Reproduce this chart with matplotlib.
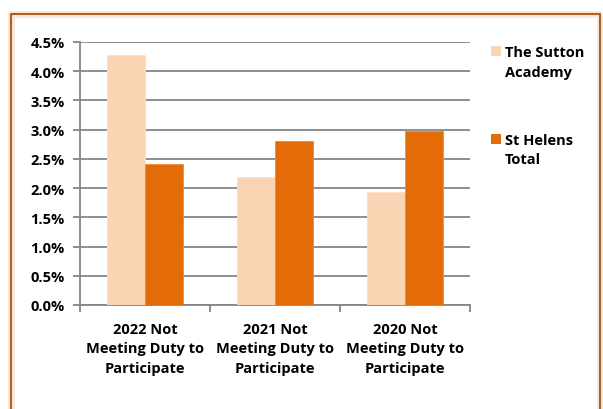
import matplotlib as mpl

mpl.use("Agg")

import matplotlib.pyplot as plt
import numpy as np
from matplotlib.lines import Line2D
from matplotlib.patches import Rectangle

CATEGORIES = [
    "2022 Not\nMeeting Duty to\nParticipate",
    "2021 Not\nMeeting Duty to\nParticipate",
    "2020 Not\nMeeting Duty to\nParticipate",
]
SERIES = ["The Sutton\nAcademy", "St Helens\nTotal"]
SUTTON = [4.28, 2.19, 1.93]
ST_HELENS = [2.41, 2.80, 2.98]
Y_TICKS = [0.0, 0.5, 1.0, 1.5, 2.0, 2.5, 3.0, 3.5, 4.0, 4.5]

LIGHT = "#FBD4B4"
DARK = "#E36C09"
GRID = "#868686"
BORDER = "#B35E1C"

plt.rcParams["font.family"] = ["Open Sans", "DejaVu Sans"]
plt.rcParams["font.weight"] = "bold"

W, H = 603, 410
fig = plt.figure(figsize=(W / 100, H / 100), dpi=100, facecolor="white")

# outer frame: left, top and right edges; the bottom runs off the picture
fx = [11 / W, 11 / W, 600 / W, 600 / W]
fy = [-0.05, 1 - 15 / H, 1 - 15 / H, -0.05]
fig.add_artist(Line2D(fx, fy, transform=fig.transFigure, color="#F3D9C4", linewidth=5, alpha=0.6))
fig.add_artist(Line2D(fx, fy, transform=fig.transFigure, color=BORDER, linewidth=1.5))

ax = fig.add_axes([80 / W, 1 - 306 / H, 390 / W, 263 / H])
x = np.arange(len(CATEGORIES))
bw = 0.29
ax.bar(x - bw / 2, SUTTON, bw, color=LIGHT, edgecolor="#FCE0C8", linewidth=0.6, zorder=3)
ax.bar(x + bw / 2, ST_HELENS, bw, color=DARK, edgecolor="#EE8A3A", linewidth=0.6, zorder=3)

ax.set_xlim(-0.5, len(CATEGORIES) - 0.5)
ax.set_ylim(0, 4.5)
ax.set_yticks(Y_TICKS)
ax.set_yticklabels([f"{v:.1f}%" for v in Y_TICKS], fontsize=10.5, fontweight="bold")
ax.yaxis.grid(True, color=GRID, linewidth=1.3, zorder=0)
ax.set_axisbelow(True)

ax.set_xticks(np.arange(len(CATEGORIES) + 1) - 0.5)
ax.set_xticklabels([])
ax.set_xticks(x, minor=True)
ax.set_xticklabels(CATEGORIES, minor=True, fontsize=10.5, fontweight="bold", linespacing=1.5)
ax.tick_params(axis="x", which="minor", length=0, pad=12)
ax.tick_params(axis="x", which="major", length=5, color=GRID, width=1.3, direction="out")
ax.tick_params(axis="y", length=5, color=GRID, width=1.3, direction="out", pad=6)

for side in ["top", "right"]:
    ax.spines[side].set_visible(False)
for side in ["left", "bottom"]:
    ax.spines[side].set_color(GRID)
    ax.spines[side].set_linewidth(1.3)

# legend
for y_top, color, label in [(47, LIGHT, SERIES[0]), (135, DARK, SERIES[1])]:
    fig.add_artist(Rectangle((491 / W, 1 - (y_top + 10) / H), 10 / W, 10 / H,
                             transform=fig.transFigure, facecolor=color, edgecolor="none"))
    fig.text(505 / W, 1 - (y_top - 1) / H, label, ha="left", va="top",
             fontsize=10.5, fontweight="bold", linespacing=1.5)

fig.savefig("out.png", dpi=100)
